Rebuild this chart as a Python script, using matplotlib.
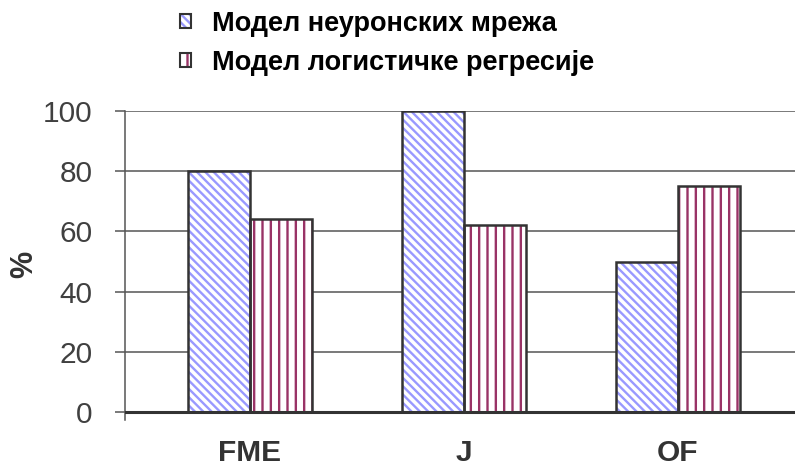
import numpy as np
import matplotlib.pyplot as plt

plt.rcParams['font.family'] = ['Liberation Sans', 'DejaVu Sans']
plt.rcParams['hatch.linewidth'] = 1.7

categories = ['FME', 'J', 'OF']
neural = [80, 100, 50]
logistic = [64, 62, 75]
labels = ['Модел неуронских мрежа', 'Модел логистичке регресије']

blue = '#9999ff'
plum = '#993366'
edge = '#333333'

fig = plt.figure(figsize=(7.95, 4.66), dpi=100)
ax = fig.add_axes([0.157, 0.0987, 0.843, 0.6631])

x = np.arange(len(categories))
w = 0.29

# hatch first (edgecolor drives hatch colour), then outlines on top
ax.bar(x - w/2, neural, w, color='white', edgecolor=blue, hatch='\\\\\\\\', linewidth=0, zorder=3)
ax.bar(x + w/2, logistic, w, color='white', edgecolor=plum, hatch='||', linewidth=0, zorder=3)
ax.bar(x - w/2, neural, w, fill=False, edgecolor=edge, linewidth=1.8, zorder=4)
ax.bar(x + w/2, logistic, w, fill=False, edgecolor=edge, linewidth=1.8, zorder=4)

ax.set_xlim(-0.584, 2.547)
ax.set_ylim(-2.66, 100)
ax.set_yticks([0, 20, 40, 60, 80, 100])
ax.yaxis.grid(True, color='#555555', linewidth=1.1, zorder=0)
ax.axhline(0, color=edge, linewidth=2.2, zorder=5)

for s in ['top', 'right', 'bottom']:
    ax.spines[s].set_visible(False)
ax.spines['left'].set_color('#555555')
ax.spines['left'].set_linewidth(1.1)

ax.tick_params(axis='y', direction='out', length=7, width=1.1, color='#555555',
               labelsize=21.5, labelcolor='#404040', pad=16)
ax.set_xticks(x)
ax.set_xticklabels(categories, fontsize=21.5, fontweight='bold', color='#333333')
ax.tick_params(axis='x', length=0, pad=13.5)

ax.set_ylabel('%', fontsize=22, fontweight='bold', color='#333333')
ax.yaxis.set_label_coords(-0.128, 0.505)

def handle(col, hatch):
    fill = plt.Rectangle((0, 0), 1, 1, facecolor='white', edgecolor=col, hatch=hatch, linewidth=0)
    box = plt.Rectangle((0, 0), 1, 1, fill=False, edgecolor=edge, linewidth=1.5)
    return (fill, box)

leg = fig.legend([handle(blue, '\\\\\\\\'), handle(plum, '||')], labels,
                 loc='upper left', bbox_to_anchor=(180/795, 1 - 11/466),
                 frameon=False, borderpad=0, borderaxespad=0,
                 handlelength=0.4, handleheight=0.4, handletextpad=0.8,
                 labelspacing=0.48, prop={'size': 19.5, 'weight': 'bold'})

fig.savefig('out.png', dpi=100)
